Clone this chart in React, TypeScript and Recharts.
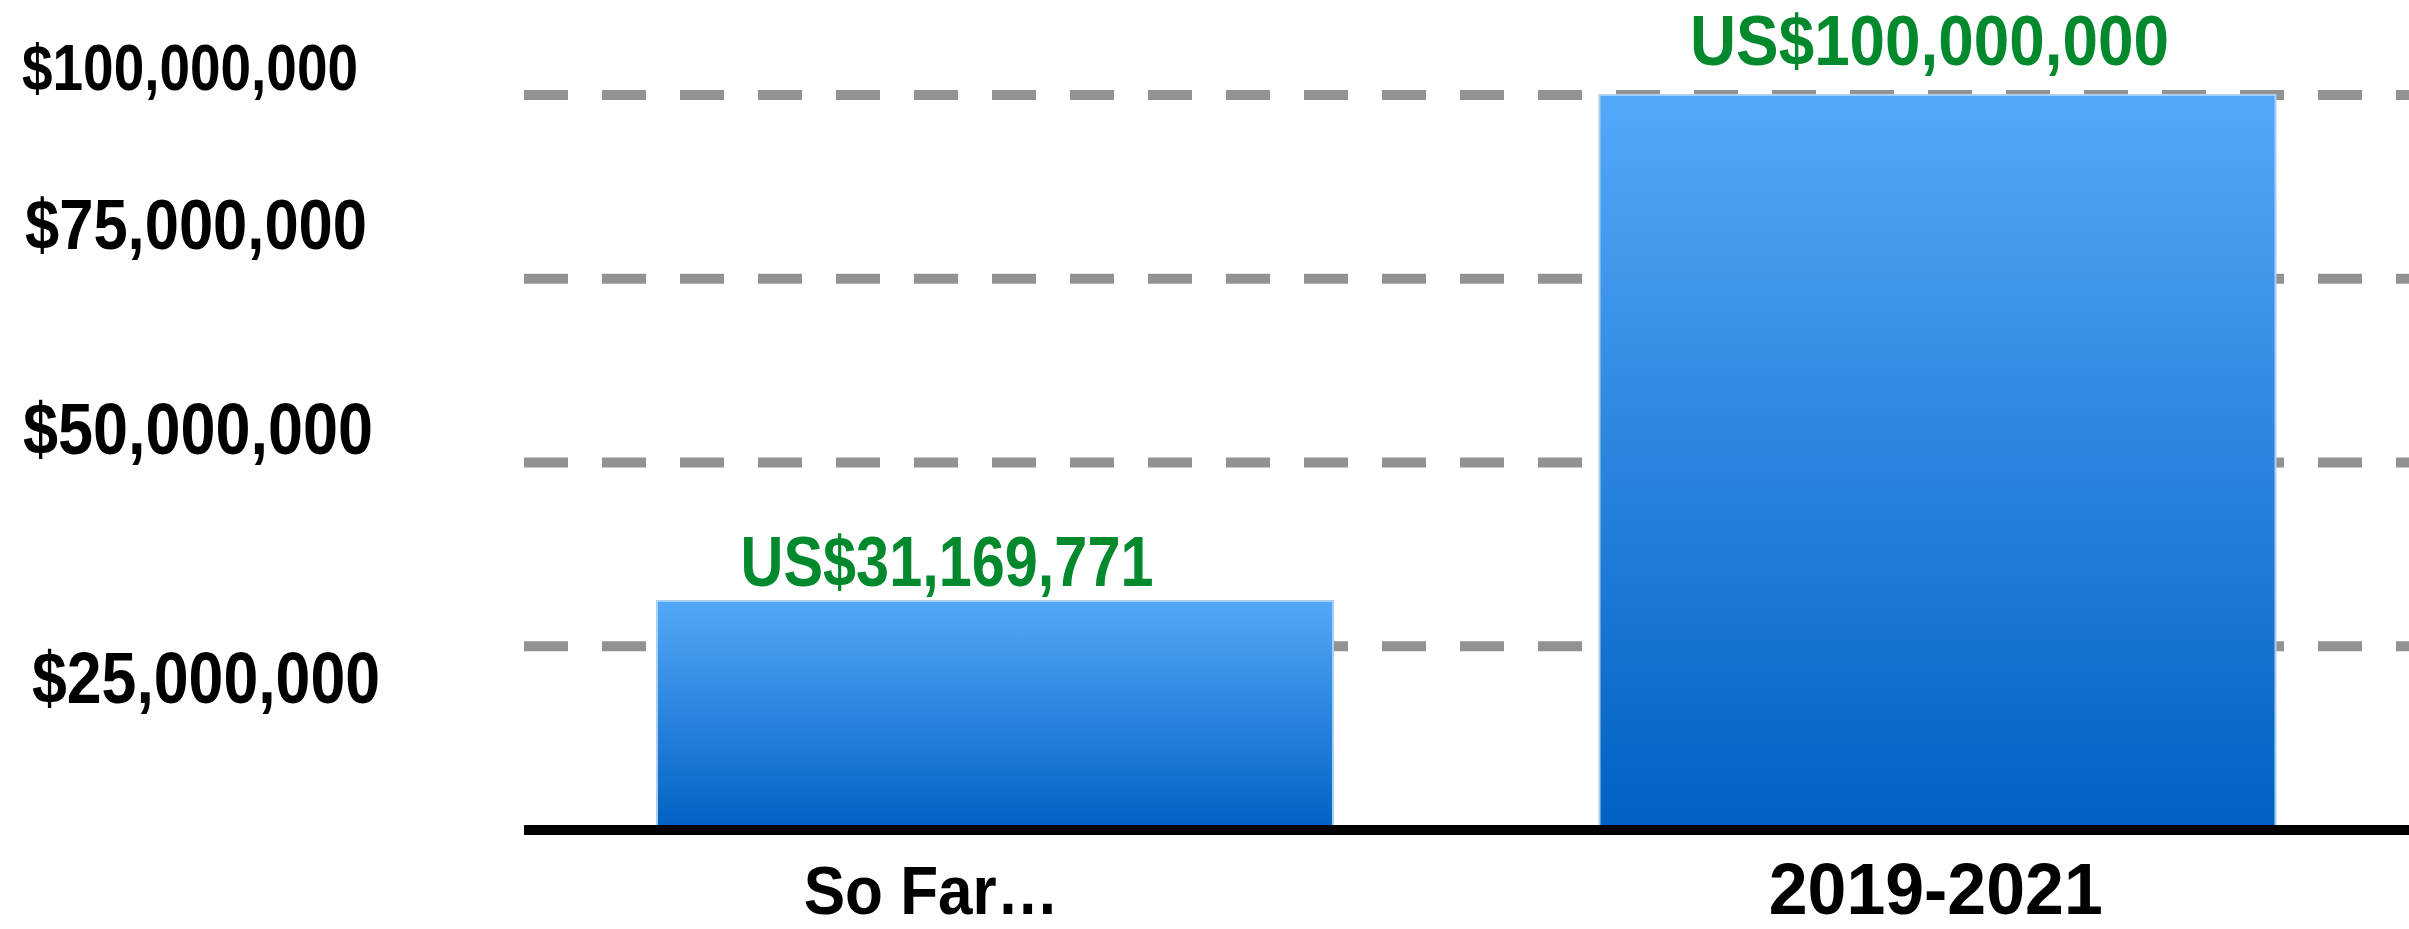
import { Bar, BarChart, CartesianGrid, LabelList, XAxis, YAxis } from "recharts";

const categories = ["So Far…", "2019-2021"];
const raised = [31169771, 100000000];
const yTicks = [25000000, 50000000, 75000000, 100000000];

const rows = categories.map((name, i) => ({ name, raised: raised[i] }));

const FONT = "'Liberation Sans', Arial, Helvetica, sans-serif";

// the source slide places its axis labels a bit loosely, so each one gets its own nudge
const yTickStyle: Record<number, { left: number; dy: number; size: number; len: number }> = {
  100000000: { left: 22, dy: -5, size: 64, len: 336 },
  75000000: { left: 25, dy: -30, size: 70, len: 342 },
  50000000: { left: 23, dy: -9, size: 72, len: 350 },
  25000000: { left: 32, dy: 57, size: 72, len: 348 }
};

const xTickStyle = [
  { dx: -64, size: 68, len: 255 },
  { dx: -2, size: 72, len: 334 }
];

const labelStyle = [
  { dx: -48, lift: 15, len: 413 },
  { dx: -8, lift: 30, len: 479 }
];

function money(v: number) {
  return "$" + v.toLocaleString("en-US");
}

function YTick(props: any) {
  const { y, payload } = props;
  const s = yTickStyle[payload.value];
  if (!s) return null;
  return (
    <text
      x={s.left}
      y={y + s.dy}
      fill="#000"
      fontFamily={FONT}
      fontWeight="bold"
      fontSize={s.size}
      textLength={s.len}
      lengthAdjust="spacingAndGlyphs"
    >
      {money(payload.value)}
    </text>
  );
}

function XTick(props: any) {
  const { x, payload, index } = props;
  const s = xTickStyle[index] ?? xTickStyle[0];
  return (
    <text
      x={x + s.dx}
      y={914}
      textAnchor="middle"
      fill="#000"
      fontFamily={FONT}
      fontWeight="bold"
      fontSize={s.size}
      textLength={s.len}
      lengthAdjust="spacingAndGlyphs"
    >
      {payload.value}
    </text>
  );
}

function ValueLabel(props: any) {
  const { x, y, width, value, index } = props;
  const s = labelStyle[index] ?? labelStyle[0];
  return (
    <text
      x={x + width / 2 + s.dx}
      y={y - s.lift}
      textAnchor="middle"
      fill="#02892E"
      fontFamily={FONT}
      fontWeight="bold"
      fontSize={70}
      textLength={s.len}
      lengthAdjust="spacingAndGlyphs"
    >
      {"US" + money(value)}
    </text>
  );
}

export default function App() {
  return (
    <div style={{ width: 2409, height: 929, background: "#fff" }}>
      <style>{"body{margin:0}"}</style>
      <BarChart
        width={2409}
        height={929}
        data={rows}
        margin={{ top: 95, right: 0, bottom: 0, left: 0 }}
        barCategoryGap={0}
      >
        <defs>
          <linearGradient id="barFill" x1="0" y1="0" x2="0" y2="1">
            <stop offset="0%" stopColor="#54A8F9" />
            <stop offset="100%" stopColor="#0061C2" />
          </linearGradient>
        </defs>
        <CartesianGrid vertical={false} stroke="#929292" strokeWidth={10} strokeDasharray="44 34" />
        <YAxis
          width={524}
          domain={[0, 100000000]}
          ticks={yTicks}
          axisLine={false}
          tickLine={false}
          tick={<YTick />}
          interval={0}
        />
        <XAxis
          dataKey="name"
          height={99}
          axisLine={{ stroke: "#000", strokeWidth: 10 }}
          tickLine={false}
          tick={<XTick />}
          interval={0}
        />
        <Bar
          dataKey="raised"
          barSize={676}
          fill="url(#barFill)"
          stroke="#A9CFF5"
          strokeWidth={2}
          isAnimationActive={false}
        >
          <LabelList dataKey="raised" content={<ValueLabel />} />
        </Bar>
      </BarChart>
    </div>
  );
}
